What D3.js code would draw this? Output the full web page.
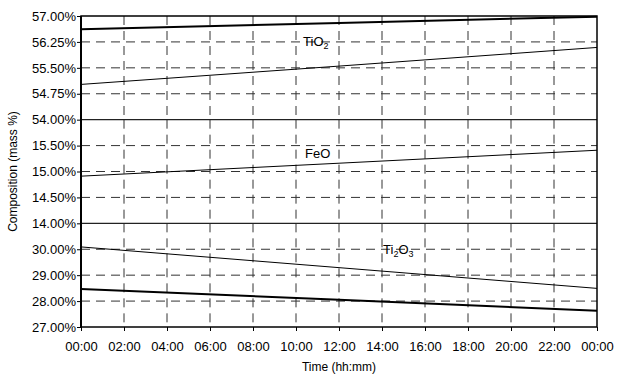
<!DOCTYPE html>
<html>
<head>
<meta charset="utf-8">
<script src="https://cdn.jsdelivr.net/npm/d3@7"></script>
<style>
  body { margin: 0; background: #fff; }
  text { font-family: "Liberation Sans", Arial, sans-serif; }
</style>
</head>
<body>
<div id="container"></div>
<script>
/* DATA */
const hours = [0, 12, 24];
const tio2Upper = [56.62, 56.80, 56.98];
const tio2Lower = [55.02, 55.55, 56.09];
const feo = [14.91, 15.16, 15.41];
const ti2o3Upper = [30.09, 29.29, 28.49];
const ti2o3Lower = [28.47, 28.05, 27.63];
const xTicks = [0, 2, 4, 6, 8, 10, 12, 14, 16, 18, 20, 22, 24];

const panels = [
  {parts: [["TiO", 0], ["2", 1]], domain: [54, 57], ticks: [54, 54.75, 55.5, 56.25, 57],
   series: [{v: tio2Upper, w: 2}, {v: tio2Lower, w: 1}], label: [10.33, 56.13]},
  {parts: [["FeO", 0]], domain: [14, 16], ticks: [14, 14.5, 15, 15.5],
   series: [{v: feo, w: 1}], label: [10.42, 15.27]},
  {parts: [["Ti", 0], ["2", 1], ["O", 0], ["3", 1]], domain: [27, 31], ticks: [27, 28, 29, 30],
   series: [{v: ti2o3Upper, w: 1}, {v: ti2o3Lower, w: 2}], label: [14.05, 29.8]}
];

/* CONSTANTS */
const width = 621, height = 383;
const margin = {top: 16, right: 24, bottom: 56, left: 81};
const plotH = height - margin.top - margin.bottom;
const panelH = plotH / panels.length;
const fs = 13;

const svg = d3.select("#container").append("svg")
  .attr("width", width).attr("height", height);

const x = d3.scaleLinear().domain([0, 24]).range([margin.left, width - margin.right]);
const fmtTime = h => String(h % 24).padStart(2, "0") + ":00";

panels.forEach((p, i) => {
  const top = margin.top + i * panelH;
  const y = d3.scaleLinear().domain(p.domain).range([top + panelH, top]);
  const g = svg.append("g");

  // horizontal dashed grid
  g.selectAll(".hgrid")
    .data(p.ticks.filter(t => t !== p.domain[0] && t !== p.domain[1]))
    .join("line")
    .attr("x1", x(0)).attr("x2", x(24))
    .attr("y1", d => y(d)).attr("y2", d => y(d))
    .attr("stroke", "#333").attr("stroke-width", 1)
    .attr("stroke-dasharray", "9,6");

  // vertical dashed grid
  g.selectAll(".vgrid")
    .data(xTicks.slice(1, -1))
    .join("line")
    .attr("x1", d => x(d)).attr("x2", d => x(d))
    .attr("y1", top).attr("y2", top + panelH)
    .attr("stroke", "#333").attr("stroke-width", 1)
    .attr("stroke-dasharray", "9,6");

  // panel separator
  if (i > 0) {
    g.append("line")
      .attr("x1", x(0)).attr("x2", x(24))
      .attr("y1", top).attr("y2", top)
      .attr("stroke", "#222").attr("stroke-width", 1.3);
  }

  // y axis
  const yAxis = d3.axisLeft(y).tickValues(p.ticks).tickSize(4)
    .tickFormat(d => d3.format(".2f")(d) + "%");
  const ax = g.append("g").attr("transform", `translate(${margin.left},0)`).call(yAxis);
  ax.select(".domain").remove();
  ax.selectAll(".tick text").attr("font-size", fs).attr("fill", "#000").attr("x", -5);
  ax.selectAll(".tick line").attr("stroke", "#000");

  // lines
  const line = d3.line().x((d, k) => x(hours[k])).y(d => y(d));
  p.series.forEach(s => {
    g.append("path")
      .attr("d", line(s.v))
      .attr("fill", "none").attr("stroke", "#000")
      .attr("stroke-width", s.w);
  });

  // label
  const t = g.append("text")
    .attr("x", x(p.label[0])).attr("y", y(p.label[1]))
    .attr("font-size", fs).attr("fill", "#000");
  let prev = 0;
  p.parts.forEach(([txt, sub]) => {
    t.append("tspan")
      .attr("font-size", sub ? 9 : fs)
      .attr("dy", (sub - prev) * 3)
      .text(txt);
    prev = sub;
  });
});

// x axis
const xAxis = d3.axisBottom(x).tickValues(xTicks).tickSize(4).tickFormat(fmtTime);
const xa = svg.append("g")
  .attr("transform", `translate(0,${height - margin.bottom})`)
  .call(xAxis);
xa.select(".domain").remove();
xa.selectAll(".tick text").attr("font-size", fs).attr("fill", "#000").attr("y", 15);

// frame
svg.append("rect")
  .attr("x", x(0)).attr("y", margin.top)
  .attr("width", x(24) - x(0)).attr("height", plotH)
  .attr("fill", "none").attr("stroke", "#000").attr("stroke-width", 1.5);
svg.append("line")
  .attr("x1", x(0)).attr("x2", x(0))
  .attr("y1", margin.top).attr("y2", height - margin.bottom)
  .attr("stroke", "#000").attr("stroke-width", 2);

// axis titles
svg.append("text")
  .attr("transform", `translate(17,${margin.top + plotH / 2}) rotate(-90)`)
  .attr("text-anchor", "middle").attr("font-size", 12)
  .text("Composition (mass %)");
svg.append("text")
  .attr("x", (x(0) + x(24)) / 2).attr("y", 371)
  .attr("text-anchor", "middle").attr("font-size", 12)
  .text("Time (hh:mm)");
</script>
</body>
</html>
